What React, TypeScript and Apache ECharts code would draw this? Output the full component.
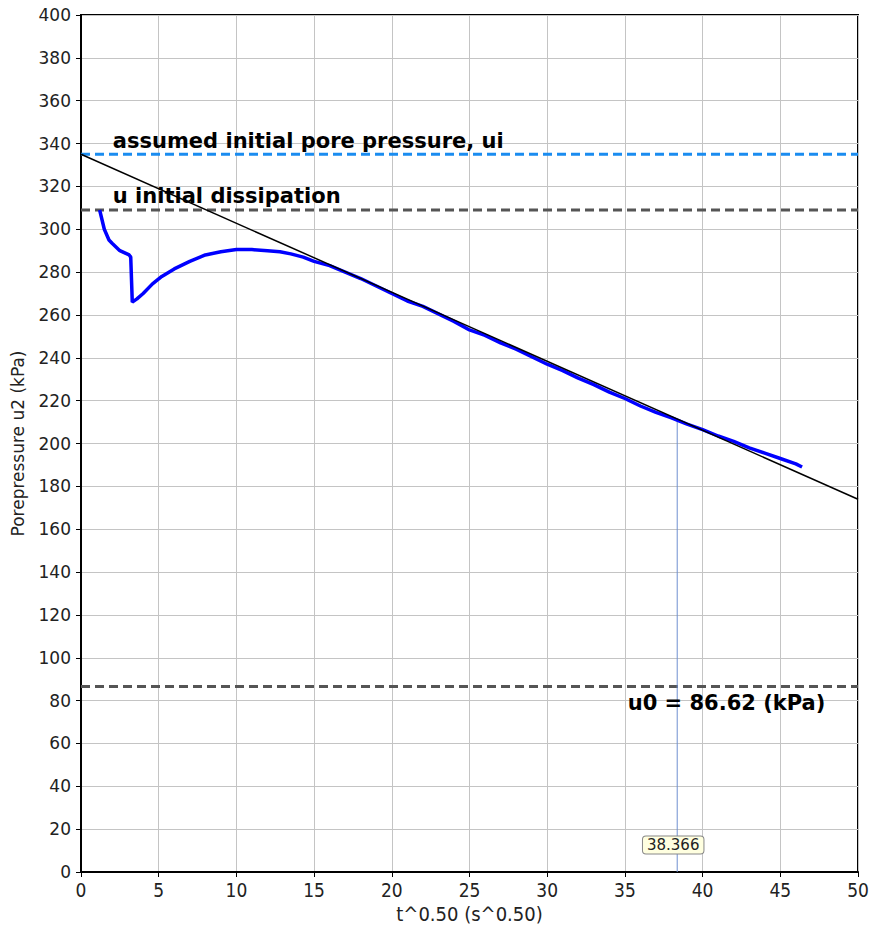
import React, { useEffect, useRef } from "react";
import * as echarts from "echarts";

// measured pore pressure u2 vs t^0.5
const measuredX = [1.2, 1.5, 1.8, 2.0, 2.5, 3.1, 3.2, 3.3, 3.6, 4.0, 4.6, 5.2, 6.0, 7.0, 8.0, 9.0, 10.0, 11.0, 12.0, 12.8, 13.5, 14.3, 15.0, 16.0, 17.0, 18.0, 19.0, 20.0, 21.0, 22.0, 23.0, 24.0, 25.0, 26.0, 27.0, 28.0, 29.0, 30.0, 31.0, 32.0, 33.0, 34.0, 35.0, 36.0, 37.0, 38.0, 39.0, 40.0, 41.0, 42.0, 43.0, 44.0, 45.0, 46.0, 46.4];
const measuredY = [309, 300, 295, 293.5, 290, 288, 287, 266, 267.5, 270, 274.5, 278, 281.5, 285, 288, 289.5, 290.5, 290.5, 290, 289.5, 288.5, 287, 285, 283, 280, 277, 273.5, 270, 266.5, 264, 260.5, 257, 253, 250.5, 247, 244, 240.5, 237, 234, 230.5, 227.5, 224, 221, 217.5, 214.5, 212, 209, 206.5, 203.5, 201, 198, 195.5, 193, 190.5, 189];

// fitted dissipation line
const fitX = [0, 50];
const fitY = [335, 174];

// reference levels
const uiLevel = 335;
const uInitDissipation = 309;
const u0Level = 86.62;
const t50 = 38.366;
const t50U = 211.5;

const xRange = [0, 50];

const uiLabel = "assumed initial pore pressure, ui";
const uInitLabel = "u initial dissipation";
const u0Label = "u0 = 86.62 (kPa)";

const narrowFont = "'Liberation Sans Narrow', 'DejaVu Sans Condensed', 'Liberation Sans', sans-serif";
const mainFont = "'DejaVu Sans', Verdana, sans-serif";

export default function App() {
  const ref = useRef<HTMLDivElement>(null);
  useEffect(() => {
    document.body.style.margin = "0";
    if (!ref.current) return;
    const chart = echarts.init(ref.current, undefined, { renderer: "svg" });
    const measured = measuredX.map((x, i) => [x, measuredY[i]]);
    const fit = fitX.map((x, i) => [x, fitY[i]]);
    chart.setOption({
      animation: false,
      grid: {
        left: 81,
        right: 14,
        top: 15,
        bottom: 64,
        show: true,
        borderColor: "#000",
        borderWidth: 2,
      },
      xAxis: {
        type: "value",
        min: 0,
        max: 50,
        interval: 5,
        name: "t^0.50 (s^0.50)",
        nameLocation: "middle",
        nameGap: 30,
        nameTextStyle: { fontFamily: narrowFont, fontSize: 20, color: "#222" },
        axisLine: { show: true, onZero: false, lineStyle: { color: "#000", width: 2 } },
        axisTick: { show: true, length: 5, lineStyle: { color: "#000" } },
        axisLabel: { fontFamily: narrowFont, fontSize: 19, color: "#222", margin: 8 },
        splitLine: { show: true, lineStyle: { color: "#c4c4c4", width: 1 } },
      },
      yAxis: {
        type: "value",
        min: 0,
        max: 400,
        interval: 20,
        name: "Porepressure u2 (kPa)",
        nameLocation: "middle",
        nameGap: 55,
        nameTextStyle: { fontFamily: mainFont, fontSize: 17, color: "#222" },
        axisLine: { show: true, onZero: false, lineStyle: { color: "#000", width: 2 } },
        axisTick: { show: true, length: 5, lineStyle: { color: "#000" } },
        axisLabel: { fontFamily: mainFont, fontSize: 17, color: "#222", margin: 10 },
        splitLine: { show: true, lineStyle: { color: "#c4c4c4", width: 1 } },
      },
      series: [
        {
          type: "line",
          data: xRange.map((x) => [x, uiLevel]),
          symbol: "none",
          lineStyle: { color: "#1a8cf0", width: 3, type: [9, 5] },
          z: 2,
        },
        {
          type: "line",
          data: xRange.map((x) => [x, uInitDissipation]),
          symbol: "none",
          lineStyle: { color: "#555", width: 3, type: [9, 5] },
          z: 2,
        },
        {
          type: "line",
          data: xRange.map((x) => [x, u0Level]),
          symbol: "none",
          lineStyle: { color: "#555", width: 3, type: [9, 5] },
          z: 2,
        },
        {
          type: "line",
          data: [[t50, 0], [t50, t50U]],
          symbol: "none",
          lineStyle: { color: "#6f8fd0", width: 1 },
          z: 3,
        },
        {
          type: "line",
          data: measured,
          symbol: "none",
          lineStyle: { color: "#0000ff", width: 3.5 },
          z: 4,
        },
        {
          type: "line",
          data: fit,
          symbol: "none",
          lineStyle: { color: "#000", width: 1.5 },
          z: 5,
        },
      ],
    });

    const px = (x: number, y: number) =>
      chart.convertToPixel({ xAxisIndex: 0, yAxisIndex: 0 }, [x, y]) as number[];
    const pUi = px(2.05, uiLevel);
    const pInit = px(2.05, uInitDissipation);
    const pU0 = px(47.9, u0Level);
    const pT = px(t50, 12.6);
    const boldFont = `bold 21px ${mainFont}`;
    chart.setOption({
      graphic: [
        {
          type: "text",
          x: pUi[0],
          y: pUi[1] - 3,
          style: { text: uiLabel, font: boldFont, fill: "#000", textAlign: "left", textVerticalAlign: "bottom" },
          z: 10,
        },
        {
          type: "text",
          x: pInit[0],
          y: pInit[1] - 3,
          style: { text: uInitLabel, font: boldFont, fill: "#000", textAlign: "left", textVerticalAlign: "bottom" },
          z: 10,
        },
        {
          type: "text",
          x: pU0[0],
          y: pU0[1] + 6,
          style: { text: u0Label, font: boldFont, fill: "#000", textAlign: "right", textVerticalAlign: "top" },
          z: 10,
        },
        {
          type: "text",
          x: pT[0] - 4,
          y: pT[1],
          style: {
            text: t50.toFixed(3),
            font: `15px ${mainFont}`,
            fill: "#222",
            textAlign: "center",
            textVerticalAlign: "middle",
            backgroundColor: "#ffffe0",
            borderColor: "#888",
            borderWidth: 1,
            borderRadius: 3,
            padding: [1, 4, 1, 4],
          },
          z: 10,
        },
      ],
    });
    return () => chart.dispose();
  }, []);
  return <div ref={ref} style={{ width: 872, height: 936 }} />;
}
